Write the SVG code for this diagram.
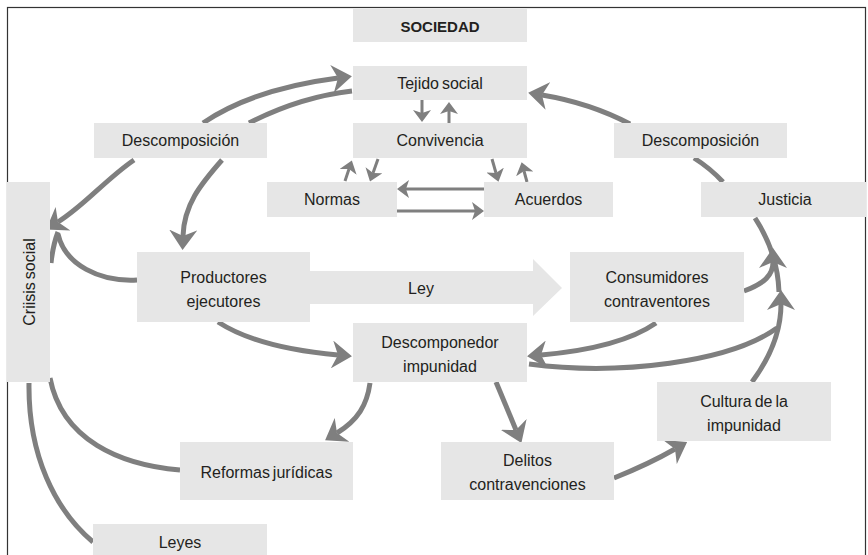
<svg xmlns="http://www.w3.org/2000/svg" width="868" height="555" viewBox="0 0 868 555">
<style>
.box{fill:#e6e6e6}
.t{font-family:"Liberation Sans",Arial,sans-serif;font-size:16px;fill:#231f20;text-anchor:middle;word-spacing:-1.5px}
.b{font-weight:bold;font-size:15px}
.c{fill:none;stroke:#7f7f7f;stroke-width:5}
.s{fill:none;stroke:#7f7f7f;stroke-width:3}
.frame{fill:none;stroke:#333;stroke-width:1.2}
</style>
<defs>
<marker id="big" markerUnits="userSpaceOnUse" markerWidth="20" markerHeight="28" viewBox="0 0 20 28" refX="6" refY="14" orient="auto">
<path d="M0,0 L20,14 L0,28 L6,14 z" fill="#7f7f7f"/>
</marker>
<marker id="sm" markerUnits="userSpaceOnUse" markerWidth="12" markerHeight="18" viewBox="0 0 12 18" refX="3" refY="9" orient="auto">
<path d="M0,0 L12,9 L0,18 L3,9 z" fill="#7f7f7f"/>
</marker>
</defs>
<rect class="frame" x="7.5" y="7.5" width="858" height="560"/>

<g id="ley">
<path class="box" d="M310,271 L533,271 L533,259 L562,288 L533,316 L533,304 L310,304 z"/>
<text class="t" x="421" y="294">Ley</text>
</g>

<g id="connectors">
<path class="c" d="M203,123 Q253,89 338,78" marker-end="url(#big)"/>
<path class="c" d="M352,91 Q300,97 249,123"/>
<path class="c" d="M134,160 C105,180 85,205 58,222" marker-end="url(#big)"/>
<path class="c" d="M222,160 C200,185 184,205 183,236" marker-end="url(#big)"/>
<path class="c" d="M137,280 C100,282 65,265 58,234"/>
<path class="c" d="M51,263 Q53,245 58,232"/>
<path class="s" d="M422,100 L422,113" marker-end="url(#sm)"/>
<path class="s" d="M449,123 L449,111" marker-end="url(#sm)"/>
<path class="s" d="M345,181 L349,169" marker-end="url(#sm)"/>
<path class="s" d="M378,159 L373,173" marker-end="url(#sm)"/>
<path class="s" d="M492,159 L496,173" marker-end="url(#sm)"/>
<path class="s" d="M527,182 L524,171" marker-end="url(#sm)"/>
<path class="s" d="M484,189 L406,189" marker-end="url(#sm)"/>
<path class="s" d="M397,211 L475,211" marker-end="url(#sm)"/>
<path class="c" d="M630,124 Q590,103 542,95" marker-end="url(#big)"/>
<path class="c" d="M694,158 Q710,168 723,182"/>
<path class="c" d="M218,322 Q258,348 338,355" marker-end="url(#big)"/>
<path class="c" d="M656,323 Q620,348 541,355" marker-end="url(#big)"/>
<path class="c" d="M529,364 C620,376 730,362 777,328"/>
<path class="c" d="M752,382 C772,355 781,330 781,304" marker-end="url(#big)"/>
<path class="c" d="M755,218 C768,238 778,262 779,292"/>
<path class="c" d="M744,291 C765,283 773,275 773,262" marker-end="url(#big)"/>
<path class="c" d="M370,383 C367,405 358,420 337,433" marker-end="url(#big)"/>
<path class="c" d="M496,382 L516,430" marker-end="url(#big)"/>
<path class="c" d="M614,478 Q649,464 675,449" marker-end="url(#big)"/>
<path class="c" d="M50,378 C62,440 120,465 180,470"/>
<path class="c" d="M29,383 C28,455 55,510 93,542"/>
</g>

<g id="sociedad"><rect class="box" x="353" y="9" width="174" height="33"/><text class="t b" x="440" y="32">SOCIEDAD</text></g>
<g id="tejido"><rect class="box" x="353" y="66" width="174" height="34"/><text class="t" x="440" y="89">Tejido social</text></g>
<g id="convivencia"><rect class="box" x="353" y="123" width="174" height="35"/><text class="t" x="440" y="146">Convivencia</text></g>
<g id="descomp-izq"><rect class="box" x="94" y="123" width="173" height="35"/><text class="t" x="180.5" y="146">Descomposición</text></g>
<g id="descomp-der"><rect class="box" x="614" y="123" width="173" height="35"/><text class="t" x="700.5" y="146">Descomposición</text></g>
<g id="normas"><rect class="box" x="267" y="182" width="130" height="35"/><text class="t" x="332" y="205">Normas</text></g>
<g id="acuerdos"><rect class="box" x="484" y="182" width="129" height="35"/><text class="t" x="548.5" y="205">Acuerdos</text></g>
<g id="justicia"><rect class="box" x="701" y="182" width="165" height="35"/><text class="t" x="785" y="205">Justicia</text></g>
<g id="crisis"><rect class="box" x="7" y="182" width="43" height="200"/><text class="t" transform="translate(35,282) rotate(-90)" x="0" y="0">Criisis social</text></g>
<g id="productores"><rect class="box" x="137" y="252" width="173" height="70"/><text class="t" x="223.5" y="283">Productores</text><text class="t" x="223.5" y="307">ejecutores</text></g>
<g id="consumidores"><rect class="box" x="570" y="252" width="174" height="70"/><text class="t" x="657" y="283">Consumidores</text><text class="t" x="657" y="307">contraventores</text></g>
<g id="descomponedor"><rect class="box" x="353" y="323" width="174" height="59"/><text class="t" x="440" y="348">Descomponedor</text><text class="t" x="440" y="372">impunidad</text></g>
<g id="reformas"><rect class="box" x="180" y="442" width="173" height="58"/><text class="t" x="266.5" y="478">Reformas jurídicas</text></g>
<g id="delitos"><rect class="box" x="441" y="442" width="173" height="58"/><text class="t" x="527.5" y="466">Delitos</text><text class="t" x="527.5" y="490">contravenciones</text></g>
<g id="cultura"><rect class="box" x="657" y="382" width="174" height="59"/><text class="t" x="744" y="407">Cultura de la</text><text class="t" x="744" y="431">impunidad</text></g>
<g id="leyes"><rect class="box" x="93" y="524" width="174" height="40"/><text class="t" x="180" y="548">Leyes</text></g>
</svg>
